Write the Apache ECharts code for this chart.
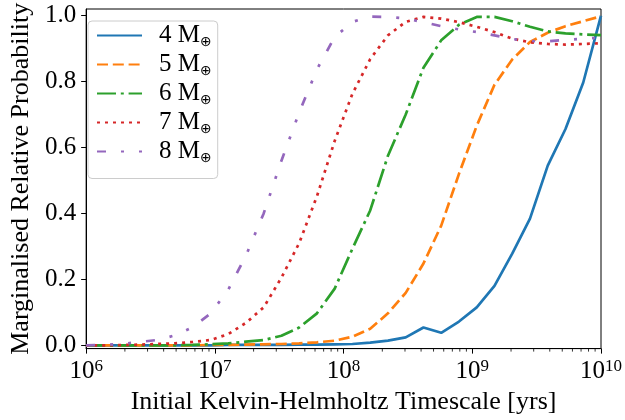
<!DOCTYPE html>
<html>
<head>
<meta charset="utf-8">
<script src="https://cdn.jsdelivr.net/npm/echarts@6/dist/echarts.min.js"></script>
<style>
html,body{margin:0;padding:0;background:#fff;}
#chart{width:625px;height:420px;}
</style>
</head>
<body>
<div id="chart"></div>
<script>
// Initial Kelvin-Helmholtz timescale grid [yrs]
const timescale = [1.000e6, 1.374e6, 1.888e6, 2.593e6, 3.562e6, 4.894e6, 6.723e6, 9.237e6,
  1.269e7, 1.743e7, 2.395e7, 3.290e7, 4.520e7, 6.210e7, 8.532e7,
  1.172e8, 1.610e8, 2.212e8, 3.039e8, 4.175e8, 5.736e8, 7.880e8,
  1.083e9, 1.487e9, 2.043e9, 2.807e9, 3.857e9, 5.298e9, 7.279e9, 1.000e10];

const prob4 = [0, 0, 0, 0, 0, 0, 0, 0, 0.001, 0.001, 0.001, 0.001, 0.002, 0.002, 0.003,
  0.004, 0.008, 0.014, 0.024, 0.054, 0.038, 0.072, 0.115, 0.18, 0.278, 0.384, 0.545, 0.656, 0.797, 1.0];
const prob5 = [0, 0, 0, 0, 0, 0, 0, 0.001, 0.001, 0.002, 0.003, 0.004, 0.006, 0.009, 0.014,
  0.026, 0.05, 0.097, 0.159, 0.248, 0.363, 0.52, 0.666, 0.79, 0.867, 0.92, 0.948, 0.968, 0.983, 0.998];
const prob6 = [0, 0, 0, 0, 0, 0, 0.001, 0.003, 0.006, 0.011, 0.016, 0.029, 0.054, 0.097, 0.172,
  0.293, 0.409, 0.575, 0.70, 0.842, 0.925, 0.972, 0.996, 0.996, 0.983, 0.966, 0.952, 0.946, 0.943, 0.941];
const prob7 = [0, 0, 0.001, 0.002, 0.004, 0.006, 0.010, 0.016, 0.034, 0.068, 0.115, 0.205, 0.31, 0.452, 0.62,
  0.763, 0.868, 0.94, 0.981, 0.996, 0.991, 0.98, 0.966, 0.95, 0.93, 0.919, 0.914, 0.912, 0.914, 0.916];
const prob8 = [0, 0.001, 0.004, 0.010, 0.016, 0.030, 0.055, 0.096, 0.168, 0.272, 0.400, 0.56, 0.706, 0.837, 0.935,
  0.981, 0.997, 0.996, 0.991, 0.98, 0.968, 0.958, 0.95, 0.94, 0.929, 0.923, 0.922, 0.926, 0.93, 0.933];

const massLabels = ['4 M⊕', '5 M⊕', '6 M⊕', '7 M⊕', '8 M⊕'];
const xMajorTicks = [1e6, 1e7, 1e8, 1e9, 1e10];
const xMinorTicks = [2e6,3e6,4e6,5e6,6e6,7e6,8e6,9e6, 2e7,3e7,4e7,5e7,6e7,7e7,8e7,9e7,
  2e8,3e8,4e8,5e8,6e8,7e8,8e8,9e8, 2e9,3e9,4e9,5e9,6e9,7e9,8e9,9e9];
const yTicks = [0, 0.2, 0.4, 0.6, 0.8, 1.0];

const allProbs = [prob4, prob5, prob6, prob7, prob8];
const colors = ['#1f77b4', '#ff7f0e', '#2ca02c', '#d62728', '#9467bd'];
const dashes = ['solid', [11, 4.8], [19, 4.8, 3, 4.8], [3, 5], [9, 15, 3, 15, 3, 15]];

const Y_MIN = -0.01, Y_MAX = 1.02;
const FONT = '"Liberation Serif", "DejaVu Serif", serif';

const lineSeries = allProbs.map((arr, i) => ({
  name: massLabels[i],
  type: 'line',
  data: arr.map((v, j) => [timescale[j], v]),
  showSymbol: false,
  symbol: 'none',
  smooth: false,
  color: colors[i],
  lineStyle: { color: colors[i], width: 2.7, type: dashes[i], cap: 'butt' },
  z: 3 + i,
  animation: false
}));

const minorTickSeries = {
  type: 'custom',
  silent: true,
  clip: false,
  animation: false,
  data: xMinorTicks.map(v => [v, Y_MIN]),
  encode: { x: 0, y: 1 },
  renderItem: function (params, api) {
    const p = api.coord([api.value(0), Y_MIN]);
    return {
      type: 'line',
      shape: { x1: p[0], y1: p[1], x2: p[0], y2: p[1] + 3 },
      style: { stroke: '#000', lineWidth: 0.8 }
    };
  }
};

const chart = echarts.init(document.getElementById('chart'), null, { renderer: 'canvas' });
chart.setOption({
  animation: false,
  backgroundColor: '#fff',
  textStyle: { fontFamily: FONT, color: '#000' },
  grid: { left: 77, right: 24, top: 9, bottom: 70, show: true, borderColor: '#000', borderWidth: 1, backgroundColor: 'transparent' },
  legend: {
    data: massLabels,
    orient: 'vertical',
    left: 88, top: 21,
    padding: [2, 6, 13, 8],
    itemGap: 2.5,
    itemWidth: 45,
    itemHeight: 14,
    backgroundColor: 'rgba(255,255,255,0.8)',
    borderColor: '#cccccc',
    borderWidth: 1,
    borderRadius: 4,
    itemStyle: { opacity: 0 },
    formatter: function (name) {
      return '{a|' + name.replace('⊕', '') + '}{s|⊕}';
    },
    textStyle: {
      fontFamily: FONT,
      color: '#000',
      padding: [0, 0, 0, 12],
      rich: {
        a: { fontFamily: FONT, fontSize: 25, lineHeight: 28, color: '#000' },
        s: { fontFamily: '"DejaVu Sans", sans-serif', fontSize: 14, lineHeight: 12, verticalAlign: 'bottom', color: '#000' }
      }
    }
  },
  xAxis: {
    type: 'log',
    logBase: 10,
    min: 1e6,
    max: 1e10,
    name: 'Initial Kelvin-Helmholtz Timescale [yrs]',
    nameLocation: 'middle',
    nameGap: 32,
    nameTextStyle: { fontFamily: FONT, fontSize: 26, color: '#000', verticalAlign: 'top' },
    axisLine: { show: true, onZero: false, lineStyle: { color: '#000', width: 1 } },
    axisTick: { show: true, length: 5, customValues: xMajorTicks, lineStyle: { color: '#000', width: 1 } },
    axisLabel: {
      customValues: xMajorTicks,
      margin: 9,
      formatter: function (v) {
        return '{b|10}{e|' + Math.round(Math.log10(v)) + '}';
      },
      rich: {
        b: { fontFamily: FONT, fontSize: 25, lineHeight: 28, color: '#000' },
        e: { fontFamily: FONT, fontSize: 17, lineHeight: 14, verticalAlign: 'top', color: '#000' }
      }
    },
    splitLine: { show: false },
    minorTick: { show: false },
    minorSplitLine: { show: false }
  },
  yAxis: {
    type: 'value',
    min: Y_MIN,
    max: Y_MAX,
    name: 'Marginalised Relative Probability',
    nameLocation: 'middle',
    nameGap: 47,
    nameRotate: 90,
    nameTextStyle: { fontFamily: FONT, fontSize: 26, color: '#000' },
    axisLine: { show: true, lineStyle: { color: '#000', width: 1 } },
    axisTick: { show: true, length: 5, customValues: yTicks, lineStyle: { color: '#000', width: 1 } },
    axisLabel: {
      customValues: yTicks,
      margin: 10,
      fontFamily: FONT,
      fontSize: 25,
      color: '#000',
      formatter: function (v) { return v.toFixed(1); }
    },
    splitLine: { show: false }
  },
  series: lineSeries.concat([minorTickSeries])
});
</script>
</body>
</html>
